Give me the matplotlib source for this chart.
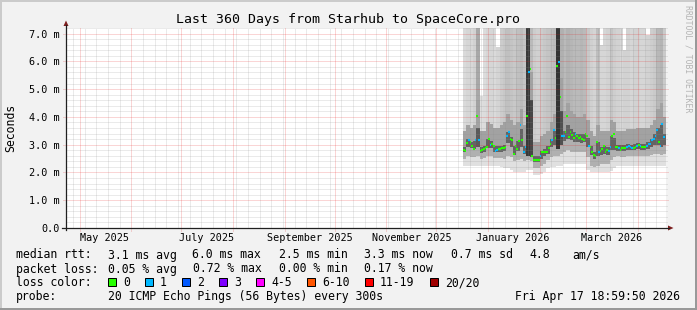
import numpy as np
import pandas as pd
import matplotlib
matplotlib.use("Agg")
import matplotlib.pyplot as plt
import matplotlib.dates as mdates
from matplotlib.patches import Rectangle, Polygon
from matplotlib.lines import Line2D

W, H = 697, 310
plt.rcParams["font.family"] = "DejaVu Sans Mono"

title = "Last 360 Days from Starhub to SpaceCore.pro"
start_time = pd.Timestamp("2025-04-22 18:59:50")
end_time = pd.Timestamp("2026-04-17 18:59:50")

# daily median rtt (ms) and lost pings per day, from 2025-12-17
first_day = "2025-12-17"
median_rtt = [2.80, 2.78, 3.05, 3.16, 3.10, 2.95, 2.86, 3.16, 4.02, 3.18,
              2.76, 2.82, 2.85, 2.88, 2.90, 3.20, 3.00, 3.04, 2.94, 2.78,
              2.80, 2.84, 2.86, 2.87, 2.87, 2.92, 3.33, 3.47, 3.22, 3.16,
              2.67, 2.94, 2.86, 3.14, 3.71, 3.16, 2.75, 2.90, 4.02, 5.63,
              5.71, 2.58, 2.46, 2.46, 2.46, 2.46, 2.58, 2.72, 2.72, 2.72,
              2.72, 2.88, 3.04, 3.18, 3.52, 3.24, 5.83, 5.99, 4.71, 3.30,
              3.30, 3.47, 4.05, 3.27, 3.47, 3.36, 3.24, 3.39, 3.30, 3.23,
              3.27, 3.22, 3.16, 3.39, 3.30, 2.94, 2.90, 2.72, 2.64, 2.58,
              3.10, 2.75, 2.78, 2.85, 2.94, 2.72, 2.80, 2.76, 2.92, 3.30,
              3.40, 2.92, 2.90, 2.88, 2.81, 2.89, 2.88, 2.88, 2.92, 2.94,
              2.92, 2.89, 2.89, 2.92, 2.94, 2.99, 2.96, 2.90, 2.90, 2.93,
              2.96, 3.01, 3.02, 3.16, 3.22, 3.30, 3.52, 3.10, 2.94, 3.76,
              3.27]
lost_pings = [0, 0, 0, 1, 0, 0, 0, 1, 0, 1,
              0, 0, 0, 0, 0, 0, 1, 0, 0, 1,
              1, 0, 0, 0, 0, 0, 1, 1, 0, 0,
              0, 0, 0, 0, 1, 0, 1, 1, 0, 1,
              0, 0, 0, 0, 0, 0, 1, 0, 0, 0,
              0, 0, 0, 1, 1, 0, 0, 1, 0, 1,
              1, 0, 0, 0, 0, 0, 0, 1, 0, 0,
              0, 0, 0, 0, 0, 1, 0, 0, 0, 0,
              0, 1, 0, 0, 0, 0, 0, 1, 1, 0,
              0, 0, 0, 1, 0, 0, 0, 0, 1, 1,
              1, 1, 0, 0, 1, 0, 1, 0, 0, 0,
              1, 1, 1, 1, 1, 1, 1, 0, 1, 1,
              1]

# smoke (ping spread), 2-day columns from 2025-12-17
smoke_lo = [2.22, 2.22, 2.22, 2.22, 2.25, 2.22, 2.22, 2.22, 2.22, 2.22,
            2.22, 2.20, 2.15, 2.15, 2.10, 2.00, 2.00, 2.00, 2.00, 2.10,
            2.10, 1.92, 1.92, 1.95, 2.00, 2.15, 2.20, 2.20, 2.25, 2.25,
            2.32, 2.32, 2.32, 2.32, 2.32, 2.32, 2.32, 2.10, 2.00, 2.00,
            2.00, 2.00, 2.00, 2.00, 2.05, 2.15, 2.22, 2.22, 2.22, 2.22,
            2.22, 2.22, 2.22, 2.22, 2.22, 2.22, 2.22, 2.22, 2.22, 2.22,
            2.22]
smoke_q0 = [2.50, 2.60, 2.55, 2.55, 2.60, 2.50, 2.52, 2.60, 2.58, 2.52,
            2.52, 2.52, 2.50, 2.60, 2.55, 2.40, 2.45, 2.50, 2.40, 2.45,
            2.40, 2.15, 2.15, 2.25, 2.30, 2.45, 2.55, 2.60, 2.60, 2.65,
            2.75, 2.80, 2.75, 2.72, 2.72, 2.72, 2.72, 2.55, 2.25, 2.20,
            2.25, 2.30, 2.30, 2.30, 2.45, 2.55, 2.58, 2.55, 2.55, 2.58,
            2.58, 2.58, 2.60, 2.58, 2.58, 2.60, 2.62, 2.65, 2.65, 2.62,
            2.65]
smoke_q1 = [2.72, 2.92, 2.88, 2.84, 2.92, 2.70, 2.75, 2.88, 2.88, 2.75,
            2.72, 2.75, 2.78, 3.05, 2.90, 2.62, 2.78, 2.90, 2.66, 2.60,
            2.55, 2.36, 2.36, 2.50, 2.58, 2.68, 2.90, 3.00, 2.85, 3.00,
            3.15, 3.20, 3.18, 3.10, 3.08, 3.06, 3.10, 2.90, 2.62, 2.48,
            2.60, 2.62, 2.66, 2.62, 2.80, 2.82, 2.78, 2.76, 2.78, 2.82,
            2.80, 2.80, 2.84, 2.82, 2.82, 2.86, 2.92, 3.00, 2.98, 2.90,
            3.00]
smoke_q2 = [2.92, 3.20, 3.10, 3.15, 3.60, 2.92, 2.96, 3.20, 3.15, 2.96,
            2.94, 2.96, 3.00, 3.45, 3.28, 2.95, 3.12, 3.55, 2.95, 7.20,
            4.60, 2.58, 2.58, 2.76, 2.84, 2.95, 3.22, 3.50, 7.20, 4.20,
            3.50, 3.70, 3.55, 3.45, 3.40, 3.38, 3.40, 3.25, 2.94, 2.75,
            3.10, 2.90, 2.95, 2.90, 3.30, 3.25, 3.00, 2.98, 3.00, 3.02,
            3.00, 3.02, 3.06, 3.04, 3.04, 3.10, 3.20, 3.38, 3.60, 3.70,
            3.40]
smoke_q3 = [3.50, 3.70, 3.60, 3.70, 4.60, 3.50, 3.50, 3.80, 3.75, 3.60,
            3.60, 3.70, 3.80, 4.10, 3.90, 3.70, 3.80, 4.30, 3.70, 7.20,
            5.60, 3.10, 3.10, 3.30, 3.40, 3.50, 3.80, 4.10, 7.20, 5.40,
            4.20, 4.50, 4.20, 4.10, 4.00, 4.00, 4.10, 3.90, 3.50, 3.30,
            3.70, 3.50, 3.50, 3.50, 3.90, 3.80, 3.50, 3.50, 3.50, 3.55,
            3.55, 3.55, 3.60, 3.60, 3.60, 3.60, 3.70, 3.90, 4.30, 4.50,
            4.00]
smoke_hi = [7.2, 7.2, 7.2, 7.2, 7.2, 4.75, 7.2, 7.2, 7.2, 7.2,
            6.5, 7.2, 7.2, 7.2, 7.2, 7.2, 7.2, 7.2, 7.2, 7.2,
            7.2, 7.2, 7.2, 7.2, 7.2, 7.2, 7.2, 7.2, 7.2, 7.2,
            7.2, 7.2, 7.2, 7.2, 7.2, 7.2, 7.2, 7.2, 7.2, 7.2,
            7.2, 6.6, 7.2, 7.2, 7.2, 7.2, 7.2, 7.2, 6.4, 7.2,
            7.2, 7.2, 7.2, 7.2, 7.2, 6.95, 7.2, 7.2, 7.2, 7.2,
            7.2]
upper_gray = [218, 214, 216, 210, 168, 222, 220, 214, 214, 218,
              212, 204, 200, 192, 196, 200, 192, 188, 196, 190,
              186, 204, 208, 204, 200, 196, 192, 188, 186, 176,
              186, 178, 182, 186, 186, 182, 186, 200, 208, 212,
              190, 214, 214, 210, 196, 206, 210, 214, 210, 210,
              214, 210, 210, 214, 214, 210, 206, 202, 184, 180,
              202]
core_gray = [100, 100, 100, 100, 90, 100, 100, 100, 100, 100,
             100, 100, 100, 100, 100, 100, 100, 100, 100, 56,
             70, 100, 100, 100, 100, 100, 100, 100, 52, 80,
             100, 100, 100, 100, 100, 100, 100, 100, 100, 100,
             100, 100, 100, 100, 100, 100, 100, 100, 100, 100,
             100, 100, 100, 100, 100, 100, 100, 100, 100, 100,
             100]

loss_labels = ["0", "1", "2", "3", "4-5", "6-10", "11-19", "20/20"]
loss_colors = ["#26ff00", "#00b8ff", "#0059ff", "#7e00ff",
               "#ff00ff", "#ff5500", "#ff0000", "#a00000"]

x_label_dates = ["2025-05-16", "2025-07-16", "2025-09-16",
                 "2025-11-16", "2026-01-16", "2026-03-16"]
x_labels = ["May 2025", "July 2025", "September 2025",
            "November 2025", "January 2026", "March 2026"]
y_values = [0, 1, 2, 3, 4, 5, 6, 7]
y_labels = ["0.0", "1.0 m", "2.0 m", "3.0 m", "4.0 m", "5.0 m", "6.0 m", "7.0 m"]

rtt_stats = ["3.1 ms avg", "6.0 ms max", "2.5 ms min", "3.3 ms now",
             "0.7 ms sd", "4.8", "am/s"]
loss_stats = ["0.05 % avg", "0.72 % max", "0.00 % min", "0.17 % now"]
probe_text = "20 ICMP Echo Pings (56 Bytes) every 300s"
stamp_text = "Fri Apr 17 18:59:50 2026"


def P(x, y):
    return x / W, 1 - y / H


def gray(v):
    return "#%02x%02x%02x" % (v, v, v)


fig = plt.figure(figsize=(W / 100, H / 100), dpi=100, facecolor="#f2f2f2")
# 3d frame
fig.add_artist(Rectangle((0, 1 - 2 / H), 1, 2 / H, transform=fig.transFigure, color="#cbcbcb", lw=0))
fig.add_artist(Rectangle((0, 0), 2 / W, 1, transform=fig.transFigure, color="#cbcbcb", lw=0))
fig.add_artist(Rectangle((0, 0), 1, 2 / H, transform=fig.transFigure, color="#999999", lw=0))
fig.add_artist(Rectangle((1 - 2 / W, 0), 2 / W, 1, transform=fig.transFigure, color="#999999", lw=0))

ax = fig.add_axes([66 / W, 1 - 228 / H, 600 / W, 200 / H])
ax.set_facecolor("white")
for s in ax.spines.values():
    s.set_visible(False)
ax.set_xlim(mdates.date2num(start_time), mdates.date2num(end_time))
ax.set_ylim(0, 7.2)

# smoke
xc = mdates.date2num(pd.date_range(first_day, periods=len(smoke_lo), freq="2D").values)
lo, q0, q1, q2, q3, hi = map(np.array, (smoke_lo, smoke_q0, smoke_q1, smoke_q2, smoke_q3, smoke_hi))
layers = [(lo, q0, "#e0e0e0"), (q0, q1, "#b0b0b0"),
          (q1, q2, [gray(v) for v in core_gray]),
          (q2, q3, "#a2a2a2"), (q3, hi, [gray(v) for v in upper_gray])]
for bot, top, col in layers:
    ax.bar(xc, top - bot, bottom=bot, width=2, align="edge", color=col,
           linewidth=0, antialiased=False, zorder=2)

# dotted grid drawn over the smoke
minor_c = (0.55, 0.55, 0.55, 0.36)
major_c = (0.9, 0.1, 0.1, 0.36)
grid_kw = dict(lw=0.72, ls=(0, (1, 1)), zorder=5)
month_starts = pd.date_range(start_time.normalize(), end_time, freq="MS")
for y in np.arange(0.2, 7.21, 0.2):
    if abs(y - round(y)) > 1e-6:
        ax.axhline(y, xmin=0, xmax=1 + 2 / 600, color=minor_c, clip_on=False, **grid_kw)
for d in pd.date_range(start_time, end_time, freq="W-SUN", normalize=True):
    if d not in month_starts:
        ax.axvline(mdates.date2num(d), color=minor_c, **grid_kw)
for y in y_values[1:]:
    ax.axhline(y, xmin=-3 / 600, xmax=1 + 2 / 600, color=major_c, clip_on=False, **grid_kw)
for d in month_starts:
    ax.axvline(mdates.date2num(d), ymin=-3 / 200, ymax=1, color=major_c, clip_on=False, **grid_kw)

# median rtt coloured by loss
xd = mdates.date2num(pd.date_range(first_day, periods=len(median_rtt), freq="D").values)
ax.hlines(median_rtt, xd, xd + 1, colors=[loss_colors[n] for n in lost_pings], lw=1.5, zorder=6)

ax.set_xticks(mdates.date2num(pd.to_datetime(x_label_dates).values), x_labels)
ax.set_yticks(y_values, y_labels)
ax.tick_params(axis="x", length=0, pad=3.8, labelsize=7.26, colors="black")
ax.tick_params(axis="y", length=0, pad=4.3, labelsize=7.26, colors="black")
ax.minorticks_off()

# axes with arrows
axis_c = "#202020"
arrow_c = "#7f1f1f"
fig.add_artist(Line2D([66 / W, 66 / W], [1 - 230 / H, 1 - 25 / H], transform=fig.transFigure, color=axis_c, lw=0.9))
fig.add_artist(Line2D([62 / W, 669 / W], [1 - 228 / H, 1 - 228 / H], transform=fig.transFigure, color=axis_c, lw=0.9))
fig.add_artist(Polygon([P(66, 20.5), P(63.5, 26), P(68.5, 26)], closed=True, transform=fig.transFigure,
                       color=arrow_c, lw=0))
fig.add_artist(Polygon([P(673.5, 228), P(668, 225.5), P(668, 230.5)], closed=True, transform=fig.transFigure,
                       color=arrow_c, lw=0))

# texts
fig.text(*P(347.5, 23.3), title, ha="center", va="baseline", fontsize=9.5)
fig.text(*P(11, 128), "Seconds", rotation=90, ha="center", va="center", fontsize=8.3)
fig.text(*P(688, 59), "RRDTOOL / TOBI OETIKER", rotation=270, ha="center", va="center",
         fontsize=5.9, color="#b4b4b4")

fs = 8.3
fig.text(*P(16, 258.5), "median rtt:", fontsize=fs, va="baseline")
for xp, s in zip([107.5, 192.4, 279, 364.4, 451, 529, 572.4], rtt_stats):
    fig.text(*P(xp, 258.5), s, fontsize=fs, va="baseline")
fig.text(*P(16, 272.5), "packet loss:", fontsize=fs, va="baseline")
for xp, s in zip([107.5, 193, 279, 364.4], loss_stats):
    fig.text(*P(xp, 272.5), s, fontsize=fs, va="baseline")
fig.text(*P(16, 286.3), "loss color:", fontsize=fs, va="baseline")
for xp, lab, col in zip([123, 160, 197, 234, 271, 322, 380, 445], loss_labels, loss_colors):
    fig.add_artist(Rectangle(P(xp - 15, 285.7), 8 / W, 8 / H, transform=fig.transFigure,
                             facecolor=col, edgecolor="black", lw=0.72))
    fig.text(*P(xp, 286.3), lab, fontsize=fs, va="baseline")
fig.text(*P(16, 300.3), "probe:", fontsize=fs, va="baseline")
fig.text(*P(107.5, 300.3), probe_text, fontsize=fs, va="baseline")
fig.text(*P(680, 300.3), stamp_text, fontsize=fs, va="baseline", ha="right")

fig.savefig("out.png", dpi=100, facecolor=fig.get_facecolor())
